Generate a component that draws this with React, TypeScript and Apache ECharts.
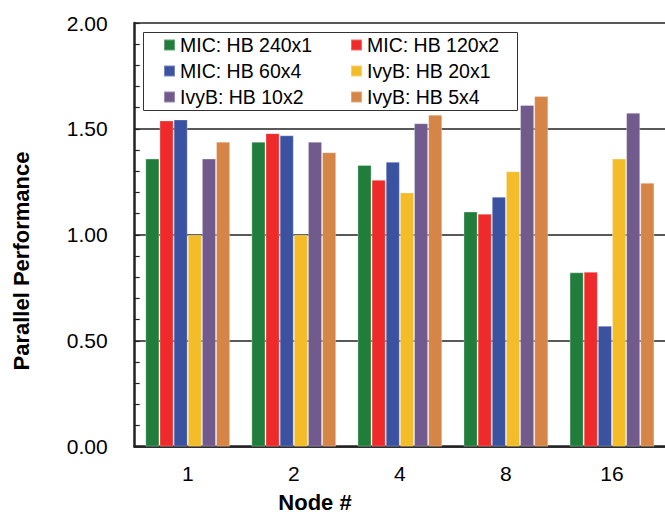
import React, { useEffect, useRef } from "react";
import * as echarts from "echarts";

const categories = ["1", "2", "4", "8", "16"];
const seriesNames = [
  "MIC: HB 240x1",
  "MIC: HB 120x2",
  "MIC: HB 60x4",
  "IvyB: HB 20x1",
  "IvyB: HB 10x2",
  "IvyB: HB 5x4",
];
const mic240x1 = [1.36, 1.44, 1.33, 1.11, 0.823];
const mic120x2 = [1.54, 1.48, 1.26, 1.1, 0.826];
const mic60x4 = [1.545, 1.47, 1.345, 1.18, 0.571];
const ivy20x1 = [1.0, 1.0, 1.2, 1.3, 1.36];
const ivy10x2 = [1.36, 1.44, 1.527, 1.613, 1.576];
const ivy5x4 = [1.44, 1.39, 1.567, 1.655, 1.246];
const seriesValues = [mic240x1, mic120x2, mic60x4, ivy20x1, ivy10x2, ivy5x4];
const colors = ["#217D3C", "#EE2A2A", "#3A52A0", "#F5BC2A", "#715A8C", "#D58546"];
const yTicks = [0, 0.5, 1.0, 1.5, 2.0];

const FONT = "'Liberation Sans', Arial, sans-serif";

export default function App() {
  const ref = useRef<HTMLDivElement>(null);
  useEffect(() => {
    if (!ref.current) return;
    const chart = echarts.init(ref.current, null, { renderer: "svg" });
    const legendCommon = {
      orient: "vertical",
      itemWidth: 11,
      itemHeight: 11,
      itemGap: 6,
      padding: 0,
      icon: "rect",
      z: 10,
      textStyle: { fontFamily: FONT, fontSize: 19.5, color: "#000", lineHeight: 20 },
    };
    chart.setOption({
      animation: false,
      color: colors,
      grid: { left: 134.7, top: 23, right: -2, bottom: 67.3, containLabel: false },
      legend: [
        { ...legendCommon, left: 163, top: 35, data: [seriesNames[0], seriesNames[2], seriesNames[4]] },
        { ...legendCommon, left: 350, top: 35, data: [seriesNames[1], seriesNames[3], seriesNames[5]] },
      ],
      graphic: [
        {
          type: "rect",
          z: 9,
          shape: { x: 143.5, y: 32.5, width: 374, height: 78 },
          style: { fill: "#fff", stroke: "#333", lineWidth: 1 },
        },
        {
          type: "text",
          x: 21,
          y: 261,
          rotation: Math.PI / 2,
          style: {
            text: "Parallel Performance",
            font: `bold 22px ${FONT}`,
            fill: "#000",
            textAlign: "center",
            textVerticalAlign: "middle",
          },
        },
        {
          type: "text",
          x: 315,
          y: 502,
          style: {
            text: "Node #",
            font: `bold 22px ${FONT}`,
            fill: "#000",
            textAlign: "center",
            textVerticalAlign: "middle",
          },
        },
      ],
      xAxis: {
        type: "category",
        data: categories,
        axisLine: { lineStyle: { color: "#222", width: 2.5 } },
        axisTick: { inside: true, length: 6, lineStyle: { color: "#222", width: 1.5 } },
        axisLabel: { fontFamily: FONT, fontSize: 21, color: "#000", margin: 16 },
        splitLine: { show: false },
      },
      yAxis: {
        type: "value",
        min: yTicks[0],
        max: yTicks[yTicks.length - 1],
        interval: 0.5,
        axisLine: { show: true, lineStyle: { color: "#222", width: 2.5 } },
        axisTick: { show: true, inside: true, length: 5, lineStyle: { color: "#222", width: 1.2 } },
        minorTick: { show: true, splitNumber: 5, length: 5, lineStyle: { color: "#222", width: 1.2 } },
        axisLabel: {
          fontFamily: FONT,
          fontSize: 21,
          color: "#000",
          margin: 27,
          formatter: (v: number) => v.toFixed(2),
        },
        splitLine: { show: true, lineStyle: { color: "#222", width: 1.5 } },
      },
      series: seriesNames.map((name, i) => ({
        name,
        type: "bar",
        data: seriesValues[i],
        barGap: "0%",
        barCategoryGap: "20%",
        itemStyle: { color: colors[i], borderColor: "rgba(255,255,255,0.3)", borderWidth: 1 },
      })),
    });
    return () => chart.dispose();
  }, []);
  return (
    <div
      ref={ref}
      style={{ position: "fixed", left: 0, top: 0, width: 665, height: 514, background: "#fff" }}
    />
  );
}
